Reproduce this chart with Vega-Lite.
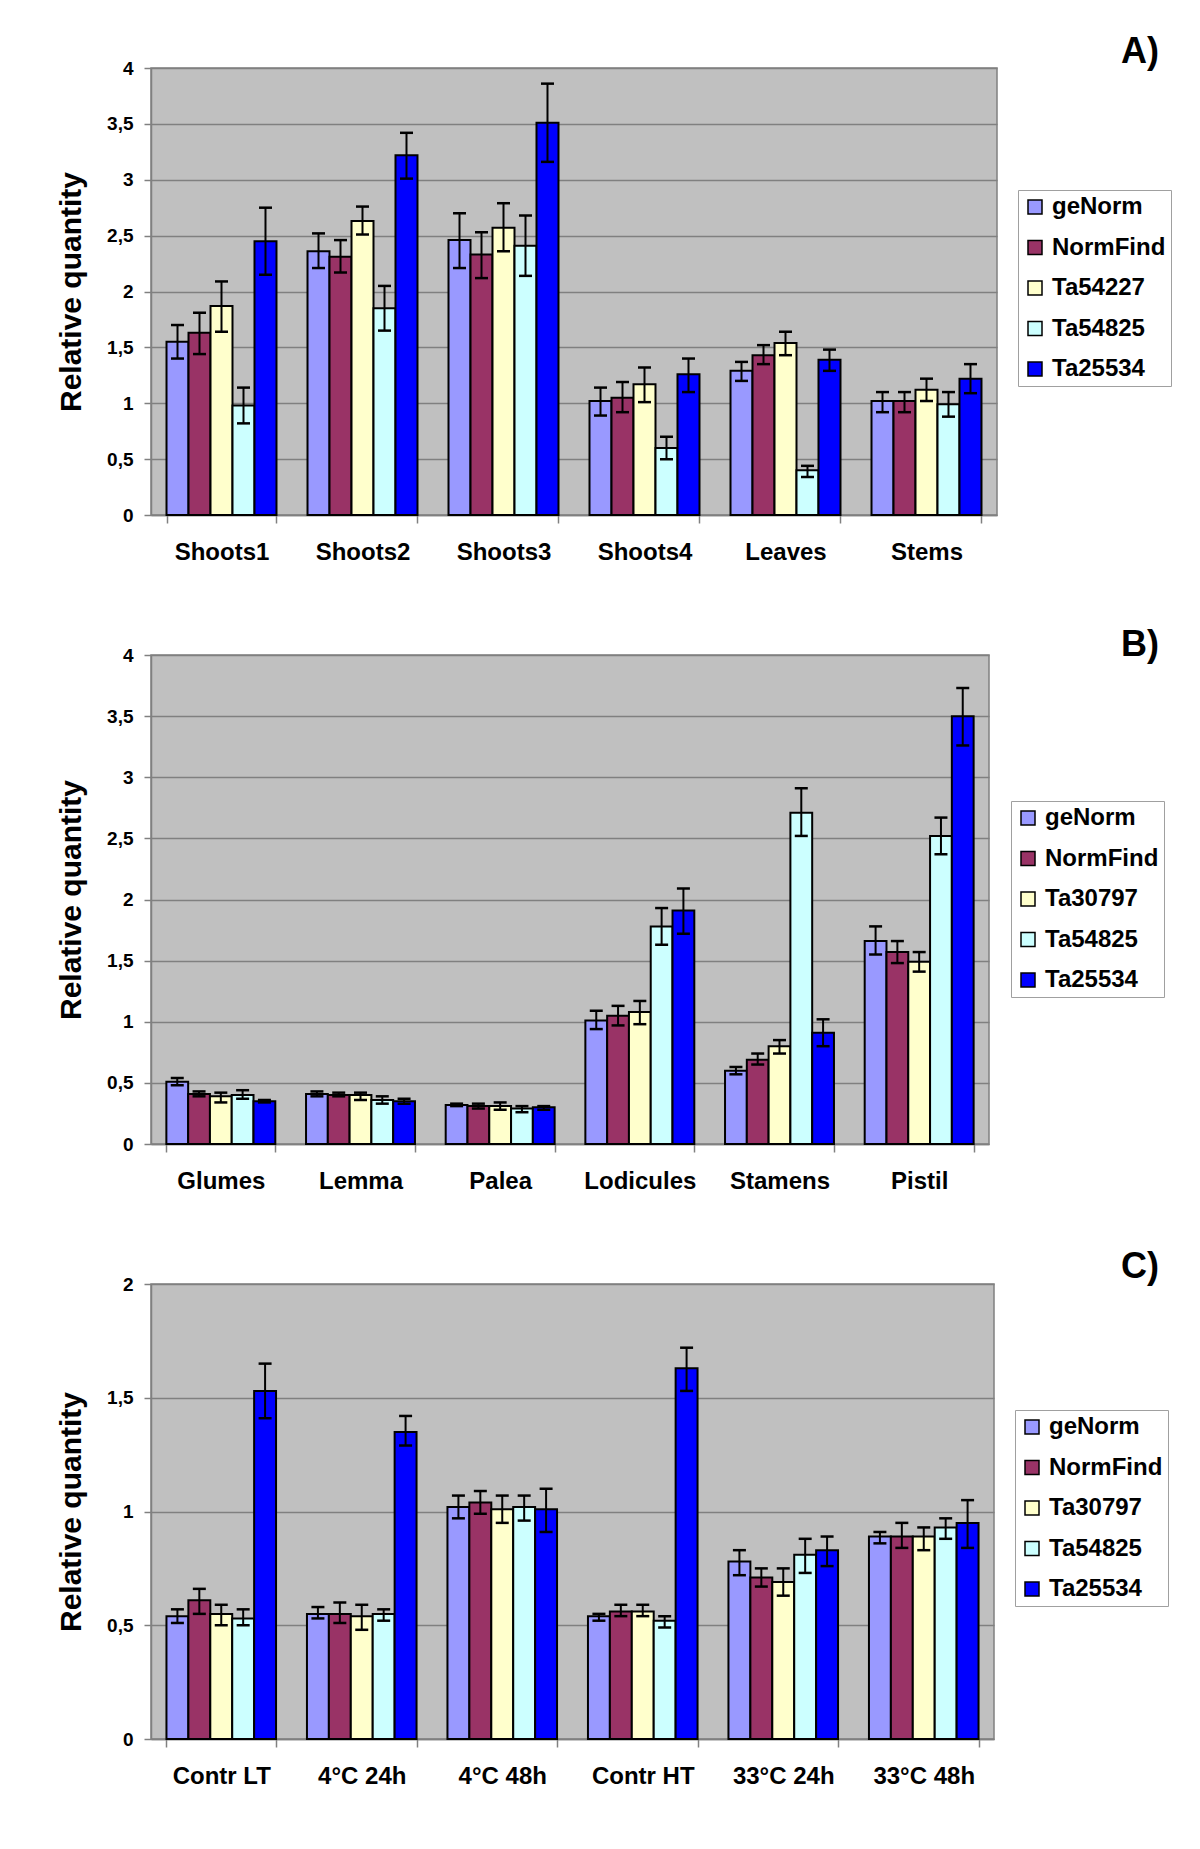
{
  "$schema": "https://vega.github.io/schema/vega-lite/v6.json",
  "background": "white",
  "padding": {"left": 55, "top": 33, "right": 0, "bottom": 0},
  "bounds": "flush",
  "spacing": 140,
  "datasets": {
    "A": [
      {"cat": "Shoots1", "ref": "geNorm", "v": 1.55, "lo": 1.40, "hi": 1.70},
      {"cat": "Shoots1", "ref": "NormFind", "v": 1.63, "lo": 1.44, "hi": 1.81},
      {"cat": "Shoots1", "ref": "Ta54227", "v": 1.87, "lo": 1.64, "hi": 2.09},
      {"cat": "Shoots1", "ref": "Ta54825", "v": 0.98, "lo": 0.82, "hi": 1.14},
      {"cat": "Shoots1", "ref": "Ta25534", "v": 2.45, "lo": 2.15, "hi": 2.75},
      {"cat": "Shoots2", "ref": "geNorm", "v": 2.36, "lo": 2.21, "hi": 2.52},
      {"cat": "Shoots2", "ref": "NormFind", "v": 2.31, "lo": 2.17, "hi": 2.46},
      {"cat": "Shoots2", "ref": "Ta54227", "v": 2.63, "lo": 2.51, "hi": 2.76},
      {"cat": "Shoots2", "ref": "Ta54825", "v": 1.85, "lo": 1.65, "hi": 2.05},
      {"cat": "Shoots2", "ref": "Ta25534", "v": 3.22, "lo": 3.01, "hi": 3.42},
      {"cat": "Shoots3", "ref": "geNorm", "v": 2.46, "lo": 2.21, "hi": 2.70},
      {"cat": "Shoots3", "ref": "NormFind", "v": 2.33, "lo": 2.12, "hi": 2.53},
      {"cat": "Shoots3", "ref": "Ta54227", "v": 2.57, "lo": 2.36, "hi": 2.79},
      {"cat": "Shoots3", "ref": "Ta54825", "v": 2.41, "lo": 2.14, "hi": 2.68},
      {"cat": "Shoots3", "ref": "Ta25534", "v": 3.51, "lo": 3.16, "hi": 3.86},
      {"cat": "Shoots4", "ref": "geNorm", "v": 1.02, "lo": 0.89, "hi": 1.14},
      {"cat": "Shoots4", "ref": "NormFind", "v": 1.05, "lo": 0.92, "hi": 1.19},
      {"cat": "Shoots4", "ref": "Ta54227", "v": 1.17, "lo": 1.01, "hi": 1.32},
      {"cat": "Shoots4", "ref": "Ta54825", "v": 0.60, "lo": 0.50, "hi": 0.70},
      {"cat": "Shoots4", "ref": "Ta25534", "v": 1.26, "lo": 1.10, "hi": 1.40},
      {"cat": "Leaves", "ref": "geNorm", "v": 1.29, "lo": 1.20, "hi": 1.37},
      {"cat": "Leaves", "ref": "NormFind", "v": 1.43, "lo": 1.35, "hi": 1.52},
      {"cat": "Leaves", "ref": "Ta54227", "v": 1.54, "lo": 1.43, "hi": 1.64},
      {"cat": "Leaves", "ref": "Ta54825", "v": 0.40, "lo": 0.34, "hi": 0.44},
      {"cat": "Leaves", "ref": "Ta25534", "v": 1.39, "lo": 1.29, "hi": 1.48},
      {"cat": "Stems", "ref": "geNorm", "v": 1.02, "lo": 0.92, "hi": 1.10},
      {"cat": "Stems", "ref": "NormFind", "v": 1.02, "lo": 0.92, "hi": 1.10},
      {"cat": "Stems", "ref": "Ta54227", "v": 1.12, "lo": 1.02, "hi": 1.22},
      {"cat": "Stems", "ref": "Ta54825", "v": 0.99, "lo": 0.88, "hi": 1.10},
      {"cat": "Stems", "ref": "Ta25534", "v": 1.22, "lo": 1.09, "hi": 1.35}
    ],
    "B": [
      {"cat": "Glumes", "ref": "geNorm", "v": 0.51, "lo": 0.48, "hi": 0.54},
      {"cat": "Glumes", "ref": "NormFind", "v": 0.41, "lo": 0.39, "hi": 0.43},
      {"cat": "Glumes", "ref": "Ta30797", "v": 0.39, "lo": 0.34, "hi": 0.42},
      {"cat": "Glumes", "ref": "Ta54825", "v": 0.40, "lo": 0.37, "hi": 0.44},
      {"cat": "Glumes", "ref": "Ta25534", "v": 0.35, "lo": 0.34, "hi": 0.36},
      {"cat": "Lemma", "ref": "geNorm", "v": 0.41, "lo": 0.39, "hi": 0.43},
      {"cat": "Lemma", "ref": "NormFind", "v": 0.40, "lo": 0.39, "hi": 0.42},
      {"cat": "Lemma", "ref": "Ta30797", "v": 0.40, "lo": 0.36, "hi": 0.42},
      {"cat": "Lemma", "ref": "Ta54825", "v": 0.36, "lo": 0.33, "hi": 0.39},
      {"cat": "Lemma", "ref": "Ta25534", "v": 0.35, "lo": 0.33, "hi": 0.37},
      {"cat": "Palea", "ref": "geNorm", "v": 0.32, "lo": 0.31, "hi": 0.33},
      {"cat": "Palea", "ref": "NormFind", "v": 0.31, "lo": 0.29, "hi": 0.33},
      {"cat": "Palea", "ref": "Ta30797", "v": 0.31, "lo": 0.28, "hi": 0.34},
      {"cat": "Palea", "ref": "Ta54825", "v": 0.29, "lo": 0.26, "hi": 0.31},
      {"cat": "Palea", "ref": "Ta25534", "v": 0.30, "lo": 0.28, "hi": 0.31},
      {"cat": "Lodicules", "ref": "geNorm", "v": 1.01, "lo": 0.94, "hi": 1.09},
      {"cat": "Lodicules", "ref": "NormFind", "v": 1.05, "lo": 0.97, "hi": 1.13},
      {"cat": "Lodicules", "ref": "Ta30797", "v": 1.08, "lo": 0.98, "hi": 1.17},
      {"cat": "Lodicules", "ref": "Ta54825", "v": 1.78, "lo": 1.63, "hi": 1.93},
      {"cat": "Lodicules", "ref": "Ta25534", "v": 1.91, "lo": 1.72, "hi": 2.09},
      {"cat": "Stamens", "ref": "geNorm", "v": 0.60, "lo": 0.57, "hi": 0.63},
      {"cat": "Stamens", "ref": "NormFind", "v": 0.69, "lo": 0.65, "hi": 0.74},
      {"cat": "Stamens", "ref": "Ta30797", "v": 0.80, "lo": 0.74, "hi": 0.85},
      {"cat": "Stamens", "ref": "Ta54825", "v": 2.71, "lo": 2.52, "hi": 2.91},
      {"cat": "Stamens", "ref": "Ta25534", "v": 0.91, "lo": 0.80, "hi": 1.02},
      {"cat": "Pistil", "ref": "geNorm", "v": 1.66, "lo": 1.55, "hi": 1.78},
      {"cat": "Pistil", "ref": "NormFind", "v": 1.57, "lo": 1.48, "hi": 1.66},
      {"cat": "Pistil", "ref": "Ta30797", "v": 1.49, "lo": 1.41, "hi": 1.57},
      {"cat": "Pistil", "ref": "Ta54825", "v": 2.52, "lo": 2.37, "hi": 2.67},
      {"cat": "Pistil", "ref": "Ta25534", "v": 3.50, "lo": 3.26, "hi": 3.73}
    ],
    "C": [
      {"cat": "Contr LT", "ref": "geNorm", "v": 0.54, "lo": 0.51, "hi": 0.57},
      {"cat": "Contr LT", "ref": "NormFind", "v": 0.61, "lo": 0.55, "hi": 0.66},
      {"cat": "Contr LT", "ref": "Ta30797", "v": 0.55, "lo": 0.50, "hi": 0.59},
      {"cat": "Contr LT", "ref": "Ta54825", "v": 0.53, "lo": 0.50, "hi": 0.57},
      {"cat": "Contr LT", "ref": "Ta25534", "v": 1.53, "lo": 1.41, "hi": 1.65},
      {"cat": "4°C 24h", "ref": "geNorm", "v": 0.55, "lo": 0.53, "hi": 0.58},
      {"cat": "4°C 24h", "ref": "NormFind", "v": 0.55, "lo": 0.51, "hi": 0.60},
      {"cat": "4°C 24h", "ref": "Ta30797", "v": 0.54, "lo": 0.48, "hi": 0.59},
      {"cat": "4°C 24h", "ref": "Ta54825", "v": 0.55, "lo": 0.52, "hi": 0.57},
      {"cat": "4°C 24h", "ref": "Ta25534", "v": 1.35, "lo": 1.29, "hi": 1.42},
      {"cat": "4°C 48h", "ref": "geNorm", "v": 1.02, "lo": 0.97, "hi": 1.07},
      {"cat": "4°C 48h", "ref": "NormFind", "v": 1.04, "lo": 0.99, "hi": 1.09},
      {"cat": "4°C 48h", "ref": "Ta30797", "v": 1.01, "lo": 0.95, "hi": 1.07},
      {"cat": "4°C 48h", "ref": "Ta54825", "v": 1.02, "lo": 0.96, "hi": 1.07},
      {"cat": "4°C 48h", "ref": "Ta25534", "v": 1.01, "lo": 0.91, "hi": 1.10},
      {"cat": "Contr HT", "ref": "geNorm", "v": 0.54, "lo": 0.52, "hi": 0.55},
      {"cat": "Contr HT", "ref": "NormFind", "v": 0.56, "lo": 0.54, "hi": 0.59},
      {"cat": "Contr HT", "ref": "Ta30797", "v": 0.56, "lo": 0.54, "hi": 0.59},
      {"cat": "Contr HT", "ref": "Ta54825", "v": 0.52, "lo": 0.49, "hi": 0.54},
      {"cat": "Contr HT", "ref": "Ta25534", "v": 1.63, "lo": 1.53, "hi": 1.72},
      {"cat": "33°C 24h", "ref": "geNorm", "v": 0.78, "lo": 0.72, "hi": 0.83},
      {"cat": "33°C 24h", "ref": "NormFind", "v": 0.71, "lo": 0.67, "hi": 0.75},
      {"cat": "33°C 24h", "ref": "Ta30797", "v": 0.69, "lo": 0.63, "hi": 0.75},
      {"cat": "33°C 24h", "ref": "Ta54825", "v": 0.81, "lo": 0.73, "hi": 0.88},
      {"cat": "33°C 24h", "ref": "Ta25534", "v": 0.83, "lo": 0.76, "hi": 0.89},
      {"cat": "33°C 48h", "ref": "geNorm", "v": 0.89, "lo": 0.86, "hi": 0.91},
      {"cat": "33°C 48h", "ref": "NormFind", "v": 0.89, "lo": 0.84, "hi": 0.95},
      {"cat": "33°C 48h", "ref": "Ta30797", "v": 0.89, "lo": 0.83, "hi": 0.93},
      {"cat": "33°C 48h", "ref": "Ta54825", "v": 0.93, "lo": 0.88, "hi": 0.97},
      {"cat": "33°C 48h", "ref": "Ta25534", "v": 0.95, "lo": 0.84, "hi": 1.05}
    ]
  },
  "vconcat": [
    {
      "width": 846, "height": 447,
      "title": {"text": "A)", "frame": "group", "anchor": "end", "dx": 162, "offset": -12},
      "data": {"name": "A"},
      "encoding": {
        "x": {"field": "cat", "type": "nominal", "sort": null, "title": null, "scale": {"paddingInner": 0.22, "paddingOuter": 0.11}},
        "xOffset": {"field": "ref", "type": "nominal", "sort": ["geNorm", "NormFind", "Ta54227", "Ta54825", "Ta25534"], "scale": {"paddingInner": 0, "paddingOuter": 0}}
      },
      "layer": [
        {"mark": {"type": "bar", "stroke": "black", "strokeWidth": 2},
         "encoding": {
           "y": {"field": "v", "type": "quantitative", "title": "Relative quantity", "scale": {"domain": [0, 4]}, "axis": {"values": [0, 0.5, 1, 1.5, 2, 2.5, 3, 3.5, 4], "labelExpr": "replace(toString(datum.value), '.', ',')"}},
           "color": {"field": "ref", "type": "nominal", "title": null, "sort": ["geNorm", "NormFind", "Ta54227", "Ta54825", "Ta25534"], "scale": {"domain": ["geNorm", "NormFind", "Ta54227", "Ta54825", "Ta25534"], "range": ["#9999FF", "#993366", "#FFFFCC", "#CCFFFF", "#0000FF"]}, "legend": {"legendX": 867, "legendY": 122}}
         }},
        {"mark": {"type": "rule", "color": "black", "strokeWidth": 2},
         "encoding": {"y": {"field": "lo", "type": "quantitative", "title": "Relative quantity"}, "y2": {"field": "hi"}}},
        {"mark": {"type": "tick", "color": "black", "thickness": 2.5, "size": 13, "opacity": 1},
         "encoding": {"y": {"field": "lo", "type": "quantitative", "title": "Relative quantity"}}},
        {"mark": {"type": "tick", "color": "black", "thickness": 2.5, "size": 13, "opacity": 1},
         "encoding": {"y": {"field": "hi", "type": "quantitative", "title": "Relative quantity"}}}
      ]
    },
    {
      "width": 838, "height": 489,
      "title": {"text": "B)", "frame": "group", "anchor": "end", "dx": 170, "offset": -18},
      "data": {"name": "B"},
      "encoding": {
        "x": {"field": "cat", "type": "nominal", "sort": null, "title": null, "scale": {"paddingInner": 0.22, "paddingOuter": 0.11}},
        "xOffset": {"field": "ref", "type": "nominal", "sort": ["geNorm", "NormFind", "Ta30797", "Ta54825", "Ta25534"], "scale": {"paddingInner": 0, "paddingOuter": 0}}
      },
      "layer": [
        {"mark": {"type": "bar", "stroke": "black", "strokeWidth": 2},
         "encoding": {
           "y": {"field": "v", "type": "quantitative", "title": "Relative quantity", "scale": {"domain": [0, 4]}, "axis": {"values": [0, 0.5, 1, 1.5, 2, 2.5, 3, 3.5, 4], "labelExpr": "replace(toString(datum.value), '.', ',')"}},
           "color": {"field": "ref", "type": "nominal", "title": null, "sort": ["geNorm", "NormFind", "Ta30797", "Ta54825", "Ta25534"], "scale": {"domain": ["geNorm", "NormFind", "Ta30797", "Ta54825", "Ta25534"], "range": ["#9999FF", "#993366", "#FFFFCC", "#CCFFFF", "#0000FF"]}, "legend": {"legendX": 860, "legendY": 146}}
         }},
        {"mark": {"type": "rule", "color": "black", "strokeWidth": 2},
         "encoding": {"y": {"field": "lo", "type": "quantitative", "title": "Relative quantity"}, "y2": {"field": "hi"}}},
        {"mark": {"type": "tick", "color": "black", "thickness": 2.5, "size": 13, "opacity": 1},
         "encoding": {"y": {"field": "lo", "type": "quantitative", "title": "Relative quantity"}}},
        {"mark": {"type": "tick", "color": "black", "thickness": 2.5, "size": 13, "opacity": 1},
         "encoding": {"y": {"field": "hi", "type": "quantitative", "title": "Relative quantity"}}}
      ]
    },
    {
      "width": 843, "height": 455,
      "title": {"text": "C)", "frame": "group", "anchor": "end", "dx": 165, "offset": -11},
      "data": {"name": "C"},
      "encoding": {
        "x": {"field": "cat", "type": "nominal", "sort": null, "title": null, "scale": {"paddingInner": 0.22, "paddingOuter": 0.11}},
        "xOffset": {"field": "ref", "type": "nominal", "sort": ["geNorm", "NormFind", "Ta30797", "Ta54825", "Ta25534"], "scale": {"paddingInner": 0, "paddingOuter": 0}}
      },
      "layer": [
        {"mark": {"type": "bar", "stroke": "black", "strokeWidth": 2},
         "encoding": {
           "y": {"field": "v", "type": "quantitative", "title": "Relative quantity", "scale": {"domain": [0, 2]}, "axis": {"values": [0, 0.5, 1, 1.5, 2], "labelExpr": "replace(toString(datum.value), '.', ',')"}},
           "color": {"field": "ref", "type": "nominal", "title": null, "sort": ["geNorm", "NormFind", "Ta30797", "Ta54825", "Ta25534"], "scale": {"domain": ["geNorm", "NormFind", "Ta30797", "Ta54825", "Ta25534"], "range": ["#9999FF", "#993366", "#FFFFCC", "#CCFFFF", "#0000FF"]}, "legend": {"legendX": 864, "legendY": 126}}
         }},
        {"mark": {"type": "rule", "color": "black", "strokeWidth": 2},
         "encoding": {"y": {"field": "lo", "type": "quantitative", "title": "Relative quantity"}, "y2": {"field": "hi"}}},
        {"mark": {"type": "tick", "color": "black", "thickness": 2.5, "size": 13, "opacity": 1},
         "encoding": {"y": {"field": "lo", "type": "quantitative", "title": "Relative quantity"}}},
        {"mark": {"type": "tick", "color": "black", "thickness": 2.5, "size": 13, "opacity": 1},
         "encoding": {"y": {"field": "hi", "type": "quantitative", "title": "Relative quantity"}}}
      ]
    }
  ],
  "resolve": {"scale": {"color": "independent", "x": "independent", "y": "independent", "xOffset": "independent"}, "legend": {"color": "independent"}},
  "config": {
    "font": "Liberation Sans",
    "view": {"fill": "#C0C0C0", "stroke": "#808080", "strokeWidth": 1.5},
    "axis": {"labelFont": "Liberation Sans", "labelFontWeight": "bold", "labelColor": "black", "titleFont": "Liberation Sans", "titleFontWeight": "bold", "titleColor": "black", "domainColor": "#808080", "tickColor": "#808080", "domainWidth": 1.5, "tickWidth": 1.5},
    "axisX": {"labelFontSize": 24, "labelAngle": 0, "tickSize": 8, "labelPadding": 17, "grid": false, "tickBand": "extent"},
    "axisY": {"labelFontSize": 19, "titleFontSize": 30, "tickSize": 7, "labelPadding": 11, "titlePadding": 20, "grid": true, "gridColor": "#808080", "gridWidth": 1.5, "gridOpacity": 1},
    "legend": {"orient": "none", "labelFont": "Liberation Sans", "labelFontWeight": "bold", "labelFontSize": 24, "labelColor": "black", "symbolType": "square", "symbolSize": 196, "symbolStrokeColor": "black", "symbolStrokeWidth": 1.5, "symbolOpacity": 1, "rowPadding": 16.5, "padding": 5, "strokeColor": "#A0A0A0", "fillColor": "white", "labelOffset": 5},
    "title": {"font": "Liberation Sans", "fontWeight": "bold", "fontSize": 36, "color": "black", "baseline": "alphabetic"}
  }
}
